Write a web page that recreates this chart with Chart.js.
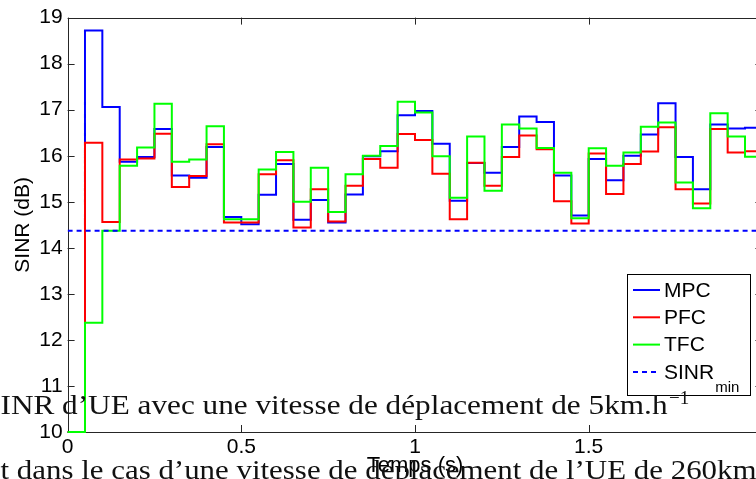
<!DOCTYPE html>
<html><head><meta charset="utf-8">
<script src="https://cdn.jsdelivr.net/npm/chart.js@4.4.0/dist/chart.umd.min.js"></script>
<style>
html,body{margin:0;padding:0;overflow:hidden;background:#fff;width:756px;height:479px}
#wrap{position:absolute;left:0;top:0;width:800px;height:479px}
</style></head>
<body><div id="wrap"><canvas id="c" width="800" height="479"></canvas></div>
<script>
const timeS = [0,0.05,0.1,0.15,0.2,0.25,0.3,0.35,0.4,0.45,0.5,0.55,0.6,0.65,0.7,0.75,0.8,0.85,0.9,0.95,
  1.0,1.05,1.1,1.15,1.2,1.25,1.3,1.35,1.4,1.45,1.5,1.55,1.6,1.65,1.7,1.75,1.8,1.85,1.9,1.95,2.0];
const mpc = [10,18.72,17.06,15.87,15.97,16.58,15.57,15.52,16.19,14.67,14.51,15.15,15.82,14.61,15.04,14.55,15.16,15.99,16.10,16.88,
  16.97,16.26,15.02,15.84,15.63,16.19,16.85,16.73,15.57,14.70,15.93,15.47,16.00,16.46,17.14,15.97,15.27,16.68,16.59,16.61,16.61];
const pfc = [10,16.28,14.56,15.92,15.94,16.48,15.32,15.56,16.25,14.55,14.55,15.60,15.90,14.44,15.27,14.57,15.35,15.93,15.74,16.47,
  16.34,15.61,14.62,15.85,15.35,15.97,16.44,16.14,15.01,14.53,16.05,15.17,15.82,16.09,16.62,15.27,14.96,16.58,16.07,16.10,16.10];
const tfc = [10,12.37,14.37,15.78,16.18,17.13,15.87,15.92,16.64,14.62,14.62,15.70,16.08,15.00,15.74,14.78,15.60,16.00,16.21,17.17,
  16.94,15.99,15.09,16.42,15.24,16.68,16.59,16.17,15.63,14.64,16.16,15.78,16.07,16.63,16.72,15.42,14.86,16.92,16.42,15.98,15.98];
const sinrMin = 14.37;
const seriesNames = ['MPC','PFC','TFC','SINR'];
const xTickLabels = ['0','0.5','1','1.5','2'];
const yTickLabels = ['10','11','12','13','14','15','16','17','18','19'];
const caption1 = 'INR d\u2019UE avec une vitesse de d\u00e9placement de 5km.h';
const caption1Sup = '\u22121';
const caption2 = 't dans le cas d\u2019une vitesse de d\u00e9placement de l\u2019UE de 260km';

const SANS = '"Liberation Sans", Arial, sans-serif';
const SERIF = '"Liberation Serif", "Times New Roman", serif';

const pts = arr => timeS.map((t,i)=>({x:t,y:arr[i]}));

const framePlugin = {
  id:'frame',
  beforeDatasetsDraw(chart){
    const {ctx, chartArea:a, scales:{x,y}} = chart;
    ctx.save();
    ctx.strokeStyle = '#262626'; ctx.lineWidth = 1;
    ctx.strokeRect(Math.round(a.left)+0.5, Math.round(a.top)+0.5, Math.round(a.right-a.left), Math.round(a.bottom-a.top));
    const L = 7;
    ctx.beginPath();
    x.ticks.forEach(t=>{
      const px = Math.round(x.getPixelForValue(t.value))+0.5;
      ctx.moveTo(px,a.bottom); ctx.lineTo(px,a.bottom-L);
      ctx.moveTo(px,a.top); ctx.lineTo(px,a.top+L);
    });
    y.ticks.forEach(t=>{
      const py = Math.round(y.getPixelForValue(t.value))+0.5;
      ctx.moveTo(a.left,py); ctx.lineTo(a.left+L,py);
      ctx.moveTo(a.right,py); ctx.lineTo(a.right-L,py);
    });
    ctx.stroke();
    ctx.restore();
  }
};

const legendPlugin = {
  id:'mylegend',
  afterDatasetsDraw(chart){
    const {ctx} = chart;
    const bx=627.5, by=274.5, bw=123, bh=121;
    ctx.save();
    ctx.fillStyle='#fff'; ctx.fillRect(bx,by,bw,bh);
    ctx.strokeStyle='#000'; ctx.lineWidth=1; ctx.strokeRect(bx,by,bw,bh);
    const ds = chart.data.datasets;
    ds.forEach((d,i)=>{
      const ry = 290 + i*27.3;
      ctx.beginPath();
      ctx.strokeStyle=d.borderColor; ctx.lineWidth=2;
      ctx.setLineDash(d.borderDash||[]);
      ctx.moveTo(633,ry); ctx.lineTo(660,ry); ctx.stroke();
      ctx.setLineDash([]);
      ctx.fillStyle='#000'; ctx.textBaseline='middle'; ctx.textAlign='left';
      ctx.font='21px '+SANS;
      ctx.fillText(d.label,664,ry+1);
      if (d.sub){
        const w = ctx.measureText(d.label).width;
        ctx.font='15px '+SANS; ctx.textBaseline='alphabetic';
        ctx.fillText(d.sub,664+w+1,ry+20);
      }
    });
    ctx.restore();
  }
};

function fitText(ctx, text, x, base, scale){
  ctx.save(); ctx.translate(x,base); ctx.scale(scale,1); ctx.fillText(text,0,0); ctx.restore();
}
const captionPlugin = {
  id:'caption',
  afterDraw(chart){
    const ctx = chart.ctx;
    ctx.save();
    ctx.fillStyle='#111'; ctx.textBaseline='alphabetic'; ctx.textAlign='left';
    ctx.font='28px '+SERIF;
    const s1 = 667/ctx.measureText(caption1).width;
    fitText(ctx, caption1, 0.5, 414, s1);
    ctx.font='19px '+SERIF;
    ctx.fillText(caption1Sup, 669, 404);
    ctx.font='28px '+SERIF;
    const pre = caption2.slice(0, caption2.length-1);
    const s2 = 732/ctx.measureText(pre).width;
    fitText(ctx, caption2, 0.5, 479, s2);
    ctx.restore();
  }
};

const common = {stepped:'before', borderWidth:2, pointRadius:0, fill:false, tension:0, clip:2};
new Chart(document.getElementById('c').getContext('2d'), {
  type:'line',
  data:{datasets:[
    Object.assign({label:seriesNames[0], data:pts(mpc), borderColor:'#0000ff', order:3}, common),
    Object.assign({label:seriesNames[1], data:pts(pfc), borderColor:'#ff0000', order:2}, common),
    Object.assign({label:seriesNames[2], data:pts(tfc), borderColor:'#00ff00', order:1}, common),
    {label:seriesNames[3], sub:'min', data:[{x:timeS[0],y:sinrMin},{x:timeS[timeS.length-1],y:sinrMin}],
     borderColor:'#0000ff', borderDash:[5,4], borderWidth:2, pointRadius:0, fill:false, order:0}
  ]},
  options:{
    responsive:false, animation:false,
    plugins:{legend:{display:false}, tooltip:{enabled:false}},
    layout:{padding:{top:16.7,right:37.6,left:0,bottom:0}},
    scales:{
      x:{type:'linear', min:0, max:2,
        ticks:{stepSize:0.5, padding:3, color:'#000', maxRotation:0, font:{family:SANS,size:21},
          callback:(v)=>{const i=Math.round(v/0.5); return xTickLabels[i];}},
        grid:{display:false, drawTicks:false}, border:{display:false},
        title:{display:true, text:'Temps (s)', color:'#000', font:{family:SANS,size:22}, padding:{top:0,bottom:0}},
        afterFit(s){s.height=47;}},
      y:{type:'linear', min:10, max:19,
        ticks:{stepSize:1, padding:5, color:'#000', font:{family:SANS,size:21},
          callback:(v)=>yTickLabels[Math.round(v-10)]},
        grid:{display:false, drawTicks:false}, border:{display:false},
        title:{display:true, text:'SINR (dB)', color:'#000', font:{family:SANS,size:21}, padding:{top:11,bottom:0}},
        afterFit(s){s.width=67.6;}}
    }
  },
  plugins:[framePlugin, legendPlugin, captionPlugin]
});
</script></body></html>
